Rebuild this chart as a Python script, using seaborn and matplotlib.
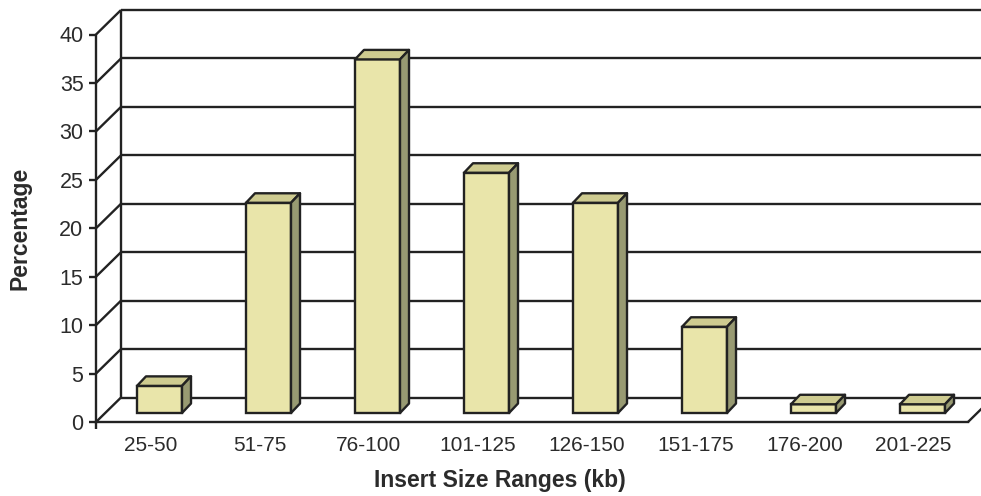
import matplotlib
matplotlib.use("Agg")
import matplotlib.pyplot as plt
import pandas as pd
import seaborn as sns
from matplotlib.patches import Polygon
from matplotlib.transforms import ScaledTranslation

# Data
ranges = ["25-50", "51-75", "76-100", "101-125", "126-150", "151-175", "176-200", "201-225"]
percentage = [2.8, 21.7, 36.5, 24.8, 21.7, 8.9, 0.9, 0.9]
y_ticks = [0, 5, 10, 15, 20, 25, 30, 35, 40]

# Style
FRONT = "#E9E5AA"
TOP = "#CECB90"
SIDE = "#989A72"
EDGE = "#222222"
TEXT = "#2b2b2b"
LW = 1.7

sns.set_theme(style="white")
plt.rcParams["font.family"] = ["Liberation Sans", "DejaVu Sans"]

W, H, DPI = 981, 496, 100
fig = plt.figure(figsize=(W / DPI, H / DPI), dpi=DPI)
ax = fig.add_axes([96 / W, 74 / H, 872 / W, 387.5 / H])

df = pd.DataFrame({"range": ranges, "pct": percentage})
sns.barplot(data=df, x="range", y="pct", color=FRONT, width=0.413, saturation=1,
            edgecolor=EDGE, linewidth=LW, ax=ax, zorder=3)
ax.set_xlim(-0.5, len(ranges) - 0.5)
ax.set_ylim(0, 40)

# pixel -> data unit conversion for the pseudo-3D depth
ux = (len(ranges)) / 872.0
uy = 40.0 / 387.5
WX, WY = 25, 24.5      # full wall depth (px)
BX, BY = 9, 9          # bar front plane offset (px)
DX, DY = 9, 9.5        # bar depth (px)

line_kw = dict(color=EDGE, lw=LW, clip_on=False, zorder=1, solid_capstyle="butt")
x0w = -0.5
# back wall gridlines
for v in y_ticks:
    ax.plot([x0w + WX * ux, x0w + WX * ux + 10], [v + WY * uy] * 2, **line_kw)
    # side wall diagonals
    ax.plot([x0w, x0w + WX * ux], [v, v + WY * uy], **line_kw)
# back-left vertical edge
ax.plot([x0w + WX * ux] * 2, [WY * uy, 40 + WY * uy], **line_kw)
# floor right edge
xr = len(ranges) - 0.5
ax.plot([xr, xr + WX * ux], [0, WY * uy], **line_kw)
# corner tick below the floor
ax.plot([x0w, x0w], [0, -7 * uy], **line_kw)

# Bars: shift the front face into the depth and add top and side faces
shift = ax.transData + ScaledTranslation(BX / DPI, BY / DPI, fig.dpi_scale_trans)
dx, dy = DX * ux, DY * uy
for p in list(ax.patches):
    p.set_transform(shift)
    p.set_clip_on(False)
    bx, bw, bh = p.get_x(), p.get_width(), p.get_height()
    top = [(bx, bh), (bx + bw, bh), (bx + bw + dx, bh + dy), (bx + dx, bh + dy)]
    side = [(bx + bw, 0), (bx + bw, bh), (bx + bw + dx, bh + dy), (bx + bw + dx, dy)]
    for verts, col in ((top, TOP), (side, SIDE)):
        ax.add_patch(Polygon(verts, closed=True, facecolor=col, edgecolor=EDGE,
                             linewidth=LW, joinstyle="round", transform=shift,
                             clip_on=False, zorder=3))

# Axes styling
for s in ("top", "right"):
    ax.spines[s].set_visible(False)
for s in ("left", "bottom"):
    ax.spines[s].set_color(EDGE)
    ax.spines[s].set_linewidth(LW)
ax.set_yticks(y_ticks)
ax.tick_params(axis="y", left=True, direction="out", length=5, width=LW, color=EDGE,
               pad=4, labelsize=15.5, labelcolor=TEXT)
ax.tick_params(axis="x", bottom=False, length=0, pad=10, labelsize=15, labelcolor=TEXT)
ax.set_xlabel("")
ax.set_ylabel("")
ax.grid(False)

fig.text(500 / W, 1 - 480 / H, "Insert Size Ranges (kb)", ha="center", va="center",
         fontsize=16.5, fontweight="bold", color=TEXT)
fig.text(20 / W, 1 - 228 / H, "Percentage", ha="center", va="center", rotation=90,
         fontsize=16.5, fontweight="bold", color=TEXT)

fig.savefig("out.png", dpi=DPI)
